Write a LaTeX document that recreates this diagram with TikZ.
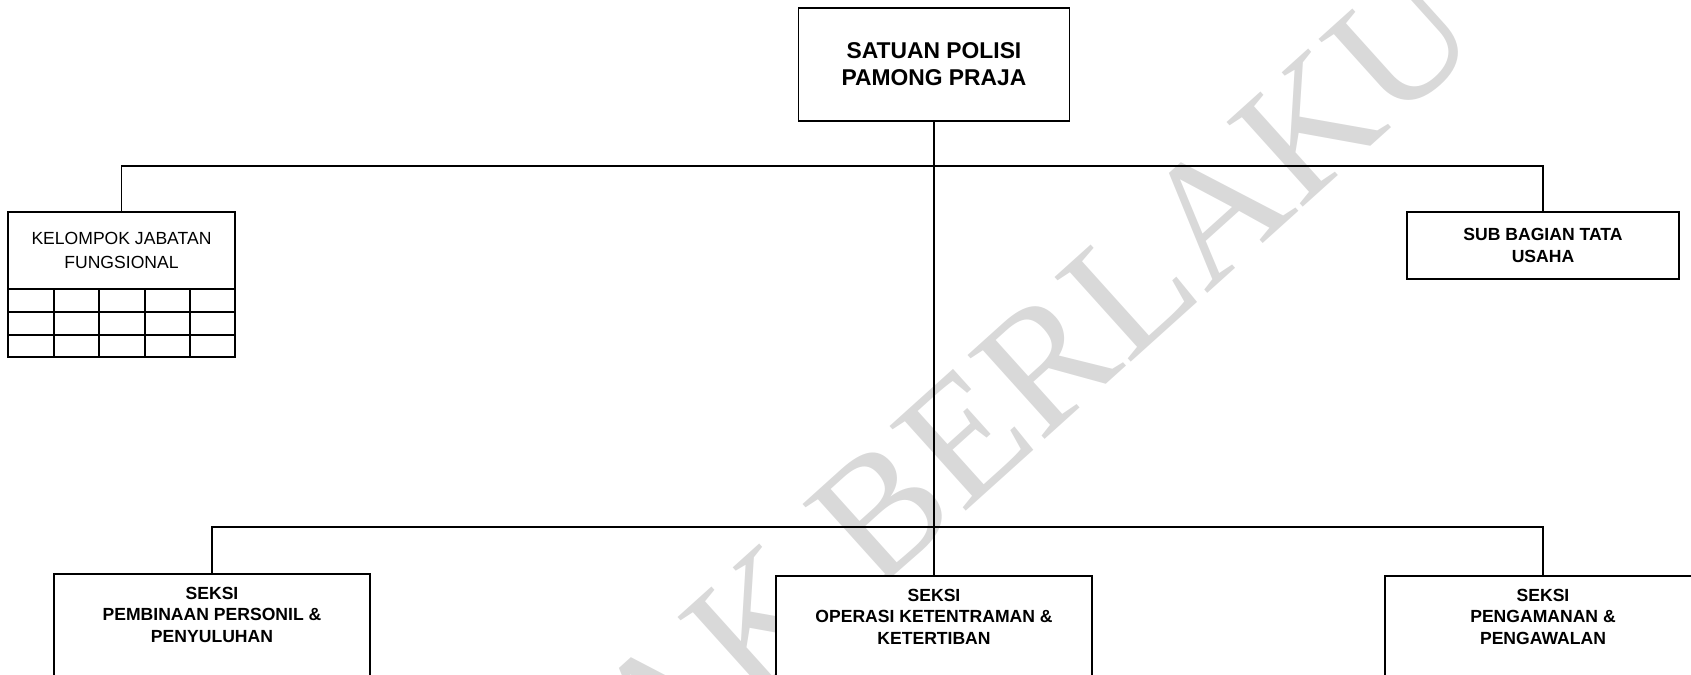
\documentclass[tikz,border=0pt]{standalone}
\usepackage{fontspec}
\setmainfont{Liberation Sans}
\newfontfamily\wmfont{Liberation Serif}
\usetikzlibrary{positioning}

\begin{document}
\begin{tikzpicture}[
        x=0.02cm, y=-0.02cm,
        box/.style={draw, fill=white, line width=1pt, align=center, inner sep=0pt},
        head/.style={box, minimum width=5.42cm, minimum height=2.26cm, font=\fontsize{13}{15.4}\selectfont\bfseries},
        unit/.style={box, minimum width=5.44cm, minimum height=1.34cm, font=\fontsize{10}{13}\selectfont\bfseries},
        group/.style={box, minimum width=4.54cm, minimum height=1.54cm, font=\fontsize{10}{13.6}\selectfont},
        seksi/.style={box, anchor=north, minimum width=6.32cm, inner ysep=0.26cm, text depth=3cm, font=\fontsize{10}{12.2}\selectfont\bfseries},
        link/.style={line width=1pt},
        wm/.style={text=black!15, rotate=42, inner sep=0pt, font=\wmfont\fontsize{99}{99}\selectfont}
    ]
        \useasboundingbox (0,0) rectangle (1691,674);
        \clip (0,0) rectangle (1691,674);

        % watermark behind the chart
        \node[wm] (wmark) at (926,471) {TIDAK BERLAKU};

        % upper level
        \node[head] (satpol) at (934,64.5) {SATUAN POLISI\\PAMONG PRAJA};
        \node[group] (kel) at (121.5,250.5) {KELOMPOK JABATAN\\FUNGSIONAL};
        \node[unit] (sub) at (1543,245.5) {SUB BAGIAN TATA\\USAHA};

        % empty cells under the group box
        \draw[link] (8,289) rectangle (235,357);
        \foreach \r in {312,335}
            \draw[link] (8,\r) -- (235,\r);
        \foreach \c in {54,99,145,190}
            \draw[link] (\c,289) -- (\c,357);

        % sections
        \node[seksi] (pembinaan) at (212,573) {SEKSI\\PEMBINAAN PERSONIL \&\\PENYULUHAN};
        \node[seksi] (ops) at (934,575) {SEKSI\\OPERASI KETENTRAMAN \&\\KETERTIBAN};
        \node[seksi] (pengamanan) at (1543,575) {SEKSI\\PENGAMANAN \&\\PENGAWALAN};

        % connectors
        \coordinate (busA) at (934,166);
        \coordinate (busB) at (934,527);
        \draw[link] (satpol.south) -- (ops.north);
        \draw[link] (kel.north) |- (busA) -| (sub.north);
        \draw[link] (pembinaan.north) |- (busB) -| (pengamanan.north);
    \end{tikzpicture}
\end{document}
